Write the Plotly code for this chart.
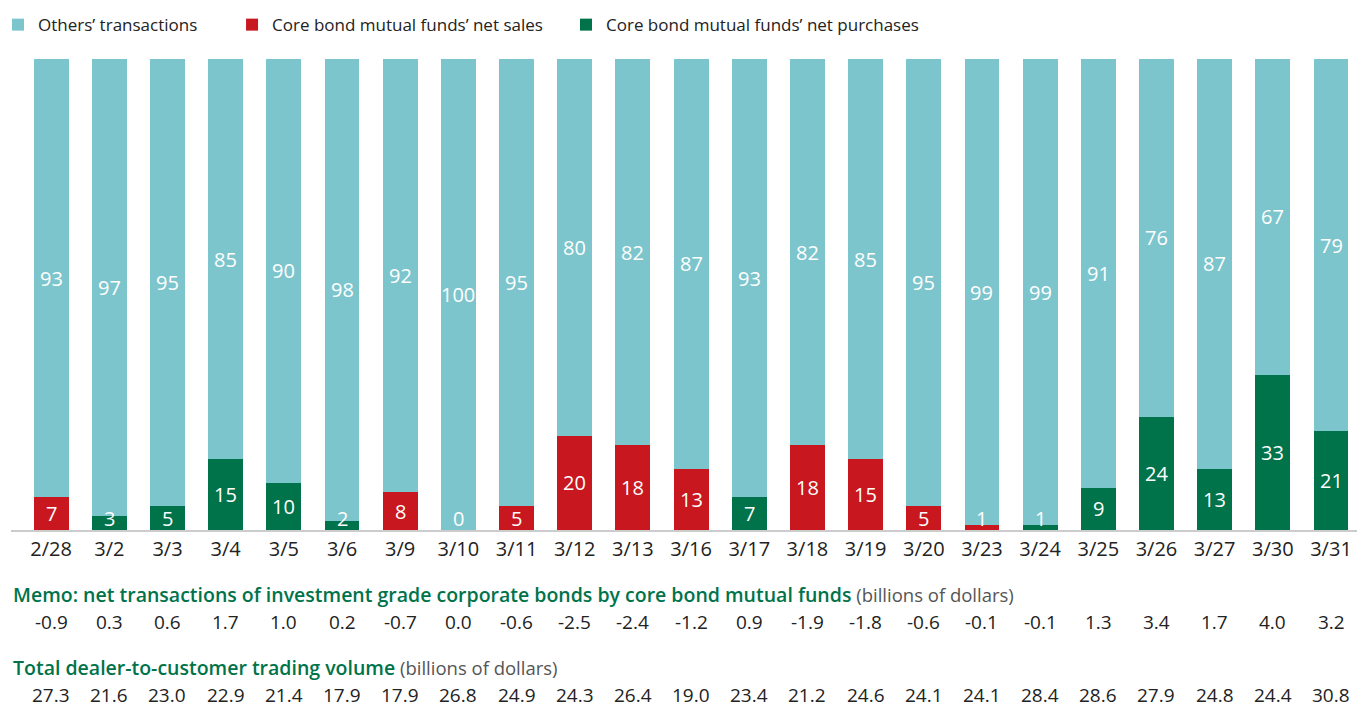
import plotly.graph_objects as go

dates = ["2/28", "3/2", "3/3", "3/4", "3/5", "3/6", "3/9", "3/10", "3/11", "3/12", "3/13", "3/16",
         "3/17", "3/18", "3/19", "3/20", "3/23", "3/24", "3/25", "3/26", "3/27", "3/30", "3/31"]
others = [93, 97, 95, 85, 90, 98, 92, 100, 95, 80, 82, 87, 93, 82, 85, 95, 99, 99, 91, 76, 87, 67, 79]
net_sales = [7, 0, 0, 0, 0, 0, 8, 0, 5, 20, 18, 13, 0, 18, 15, 5, 1, 0, 0, 0, 0, 0, 0]
net_purchases = [0, 3, 5, 15, 10, 2, 0, 0, 0, 0, 0, 0, 7, 0, 0, 0, 0, 1, 9, 24, 13, 33, 21]
memo = [-0.9, 0.3, 0.6, 1.7, 1.0, 0.2, -0.7, 0.0, -0.6, -2.5, -2.4, -1.2, 0.9, -1.9, -1.8, -0.6,
        -0.1, -0.1, 1.3, 3.4, 1.7, 4.0, 3.2]
volume = [27.3, 21.6, 23.0, 22.9, 21.4, 17.9, 17.9, 26.8, 24.9, 24.3, 26.4, 19.0, 23.4, 21.2, 24.6,
          24.1, 24.1, 28.4, 28.6, 27.9, 24.8, 24.4, 30.8]

TEAL = "#7cc5cc"
RED = "#c8171e"
GREEN = "#00734a"
FONT = "Open Sans"
TXT = "#222222"
LEG_FONT = dict(family=FONT, size=17, color=TXT)

fig = go.Figure()
fig.add_trace(go.Bar(x=dates, y=net_sales, name="Core bond mutual funds\u2019 net sales",
                     legend="legend2", marker=dict(color=RED, line=dict(width=0))))
fig.add_trace(go.Bar(x=dates, y=net_purchases, name="Core bond mutual funds\u2019 net purchases",
                     legend="legend3", marker=dict(color=GREEN, line=dict(width=0))))
fig.add_trace(go.Bar(x=dates, y=others, name="Others\u2019 transactions",
                     legend="legend", marker=dict(color=TEAL, line=dict(width=0))))

annotations = []
for i, d in enumerate(dates):
    net = net_sales[i] + net_purchases[i]
    annotations.append(dict(x=d, y=max(net / 2, 2.4), xref="x", yref="y", text=str(net),
                            showarrow=False, xanchor="center", yanchor="middle",
                            font=dict(family=FONT, size=20, color="white")))
    annotations.append(dict(x=d, y=net + others[i] / 2, xref="x", yref="y", text=str(others[i]),
                            showarrow=False, xanchor="center", yanchor="middle",
                            font=dict(family=FONT, size=20, color="white")))
    annotations.append(dict(x=d, y=-0.1953, xref="x", yref="paper", text=f"{memo[i]:.1f}",
                            showarrow=False, xanchor="center", yanchor="middle",
                            font=dict(family=FONT, size=19, color=TXT)))
    annotations.append(dict(x=d, y=-0.3503, xref="x", yref="paper", text=f"{volume[i]:.1f}",
                            showarrow=False, xanchor="center", yanchor="middle",
                            font=dict(family=FONT, size=19, color=TXT)))

annotations.append(dict(
    x=0, y=-0.138, xref="paper", yref="paper", xanchor="left", yanchor="middle", showarrow=False,
    text=f"<span style='color:{GREEN};font-weight:600'>Memo: net transactions of investment grade corporate bonds by core bond mutual funds</span>"
         "<span style='color:#555555;font-size:18.5px'> (billions of dollars)</span>",
    font=dict(family=FONT, size=19.5, color=GREEN)))
annotations.append(dict(
    x=0, y=-0.291, xref="paper", yref="paper", xanchor="left", yanchor="middle", showarrow=False,
    text=f"<span style='color:{GREEN};font-weight:600'>Total dealer-to-customer trading volume</span>"
         "<span style='color:#555555;font-size:18.5px'> (billions of dollars)</span>",
    font=dict(family=FONT, size=19.5, color=GREEN)))

leg_common = dict(orientation="h", y=0.976, yref="container", yanchor="middle",
                  xanchor="left", font=LEG_FONT, bgcolor="rgba(0,0,0,0)")

fig.update_layout(
    barmode="stack",
    bargap=0.4,
    width=1357, height=712,
    margin=dict(l=3, r=2, t=51, b=190, autoexpand=False),
    paper_bgcolor="white", plot_bgcolor="white",
    font=dict(family=FONT, size=17, color=TXT),
    showlegend=True,
    legend=dict(x=-0.0096, **leg_common),
    legend2=dict(x=0.1635, **leg_common),
    legend3=dict(x=0.4105, **leg_common),
    annotations=annotations,
)
fig.update_xaxes(range=[-0.69, 22.55], showgrid=False, showline=True, linecolor="#cccccc",
                 linewidth=2, ticks="", automargin=False,
                 tickfont=dict(family=FONT, size=20, color=TXT))
fig.update_yaxes(range=[0, 100], visible=False, showgrid=False, automargin=False)

fig.write_html("out.html")
